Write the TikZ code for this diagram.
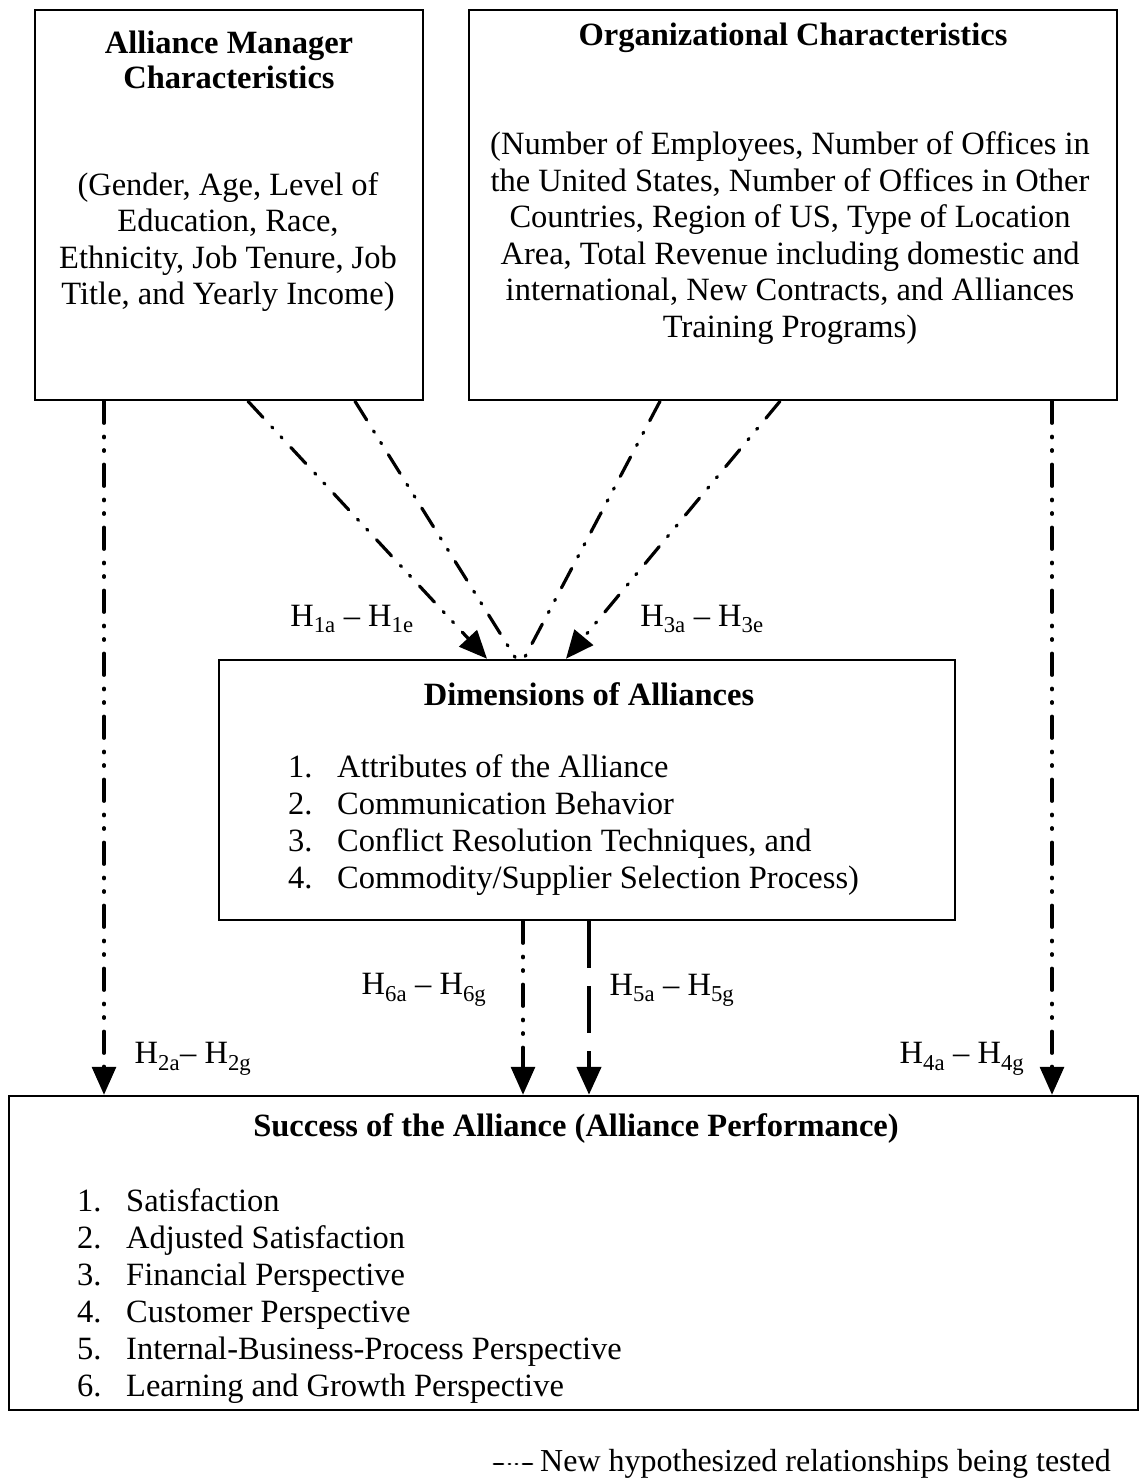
\documentclass[tikz,border=0pt]{standalone}
\usepackage{fontspec}
\setmainfont{Liberation Serif}
\usetikzlibrary{arrows.meta}
\begin{document}
\begin{tikzpicture}[x=1pt,y=-1pt,
  box/.style={draw,line width=2.5pt,inner sep=0pt},
  txt/.style={font=\fontsize{32.5}{36.5}\selectfont,inner sep=0pt,align=center},
  ttl/.style={font=\fontsize{32.5}{35}\selectfont\bfseries,inner sep=0pt,align=center},
  item/.style={font=\fontsize{32.5}{36.5}\selectfont,inner sep=0pt,anchor=base west},
  ddot/.style={line width=3.2pt,line cap=round,dash pattern=on 22pt off 13pt on 1.5pt off 12pt on 1.5pt off 13pt},
  thick dash/.style={line width=4.5pt,dash pattern=on 47pt off 18pt},
  tip/.style={-{Triangle[width=24pt,length=28pt]}}
]
\useasboundingbox (0,0) rectangle (1140,1480);

% boxes
\node[box,minimum width=388pt,minimum height=390pt] (amc) at (229,205) {};
\node[box,minimum width=648pt,minimum height=390pt] (org) at (793,205) {};
\node[box,minimum width=736pt,minimum height=260pt] (dim) at (587,790) {};
\node[box,minimum width=1129pt,minimum height=314pt] (suc) at (573.5,1253) {};

% box texts
\node[ttl] (amct) at (229,60) {Alliance Manager\\Characteristics};
\node[txt] (amcb) at (228,242) {(Gender, Age, Level of\\Education, Race,\\Ethnicity, Job Tenure, Job\\Title, and Yearly Income)};
\node[ttl] (orgt) at (793,38) {Organizational Characteristics};
\node[txt] (orgb) at (790,238) {(Number of Employees, Number of Offices in\\the United States, Number of Offices in Other\\Countries, Region of US, Type of Location\\Area, Total Revenue including domestic and\\international, New Contracts, and Alliances\\Training Programs)};
\node[ttl] (dimt) at (589,694) {Dimensions of Alliances};
\node[item] (d1n) at (288,777) {1.};
\node[item] (d1) at (337,777) {Attributes of the Alliance};
\node[item] (d2n) at (288,814) {2.};
\node[item] (d2) at (337,814) {Communication Behavior};
\node[item] (d3n) at (288,851) {3.};
\node[item] (d3) at (337,851) {Conflict Resolution Techniques, and};
\node[item] (d4n) at (288,888) {4.};
\node[item] (d4) at (337,888) {Commodity/Supplier Selection Process)};
\node[ttl] (suct) at (576,1129) {Success of the Alliance (Alliance Performance)};
\node[item] (s1n) at (77,1211) {1.};
\node[item] (s1) at (126,1211) {Satisfaction};
\node[item] (s2n) at (77,1248) {2.};
\node[item] (s2) at (126,1248) {Adjusted Satisfaction};
\node[item] (s3n) at (77,1285) {3.};
\node[item] (s3) at (126,1285) {Financial Perspective};
\node[item] (s4n) at (77,1322) {4.};
\node[item] (s4) at (126,1322) {Customer Perspective};
\node[item] (s5n) at (77,1359) {5.};
\node[item] (s5) at (126,1359) {Internal-Business-Process Perspective};
\node[item] (s6n) at (77,1396) {6.};
\node[item] (s6) at (126,1396) {Learning and Growth Perspective};

% connector anchor x positions
\coordinate (xl) at (104,0);
\coordinate (xr) at (1052,0);
\coordinate (a1s) at (248,0);
\coordinate (a1e) at (487,0);
\coordinate (b1s) at (355,0);
\coordinate (b1e) at (516,0);
\coordinate (b2s) at (660,0);
\coordinate (b2e) at (524,0);
\coordinate (a3s) at (780,0);
\coordinate (a3e) at (566,0);
\coordinate (x6) at (523,0);
\coordinate (x5) at (589,0);

% connectors
\draw[ddot,tip] (amc.south -| xl) -- (suc.north -| xl);
\draw[ddot,tip] (org.south -| xr) -- (suc.north -| xr);
\draw[ddot,tip] (amc.south -| a1s) -- (dim.north -| a1e);
\draw[ddot] (amc.south -| b1s) -- (dim.north -| b1e);
\draw[ddot] (org.south -| b2s) -- (dim.north -| b2e);
\draw[ddot,tip] (org.south -| a3s) -- (dim.north -| a3e);
\draw[ddot,tip] (dim.south -| x6) -- (suc.north -| x6);
\draw[thick dash,tip] (dim.south -| x5) -- (suc.north -| x5);

% labels
\node[txt] (h1) at (352,619) {H\textsubscript{1a} -- H\textsubscript{1e}};
\node[txt] (h3) at (702,619) {H\textsubscript{3a} -- H\textsubscript{3e}};
\node[txt] (h6) at (424,990) {H\textsubscript{6a} -- H\textsubscript{6g}};
\node[txt] (h5) at (672,990) {H\textsubscript{5a} -- H\textsubscript{5g}};
\node[txt] (h2) at (193,1059) {H\textsubscript{2a}-- H\textsubscript{2g}};
\node[txt] (h4) at (962,1059) {H\textsubscript{4a} -- H\textsubscript{4g}};

% legend
\coordinate (lg1) at (494,1464);
\coordinate (lg2) at (532,1464);
\draw[line width=2.8pt,line cap=round,dash pattern=on 9pt off 6pt on 1pt off 6pt on 1pt off 6pt on 9pt] (lg1) -- (lg2);
\node[item,font=\fontsize{32}{36}\selectfont] (lgt) at (540,1471) {New hypothesized relationships being tested};
\end{tikzpicture}
\end{document}
